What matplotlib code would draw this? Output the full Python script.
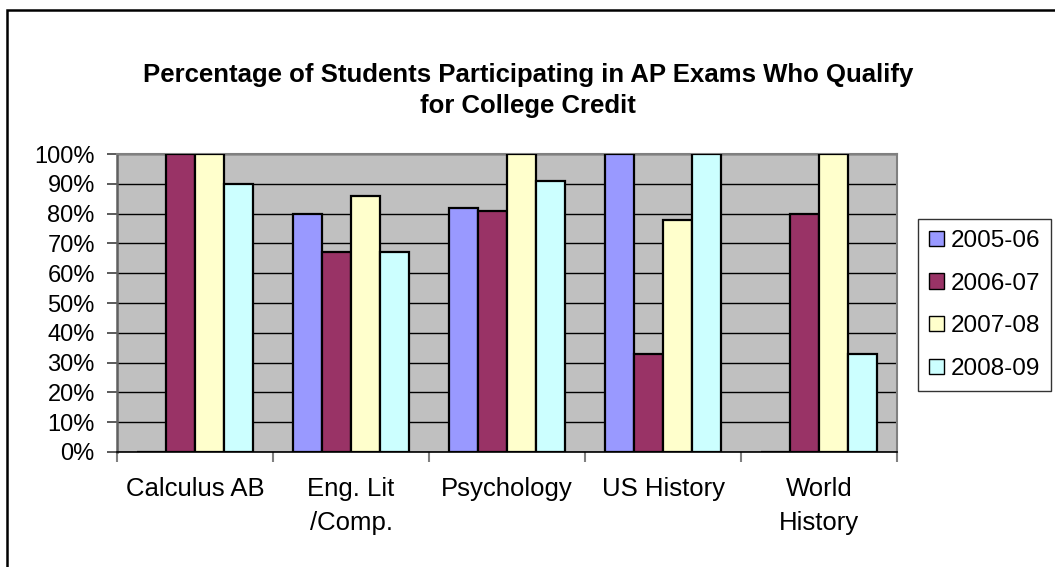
import matplotlib
matplotlib.use("Agg")
import matplotlib.pyplot as plt
import numpy as np
from matplotlib.patches import Rectangle

plt.rcParams['font.family'] = ['Liberation Sans', 'DejaVu Sans']

categories = ["Calculus AB", "Eng. Lit\n/Comp.", "Psychology", "US History", "World\nHistory"]
years = ["2005-06", "2006-07", "2007-08", "2008-09"]
pct_2005 = [0, 80, 82, 100, 0]
pct_2006 = [100, 67, 81, 33, 80]
pct_2007 = [100, 86, 100, 78, 100]
pct_2008 = [90, 67, 91, 100, 33]
series = [pct_2005, pct_2006, pct_2007, pct_2008]
colors = ["#9999FF", "#993366", "#FFFFCC", "#CCFFFF"]

W, H = 1055, 567
fig = plt.figure(figsize=(W / 100, H / 100), dpi=100)

# outer chart border (only top/left visible in the crop)
fig.patches.append(Rectangle((7 / W, -0.1), 1.2, 1 - 10 / H + 0.1, transform=fig.transFigure,
                             fill=False, edgecolor="black", linewidth=1.8))

ax = fig.add_axes([117 / W, (H - 452) / H, 780 / W, 298 / H])
ax.set_facecolor("#C0C0C0")

x = np.arange(len(categories))
bw = 0.186
for i, (vals, c, lab) in enumerate(zip(series, colors, years)):
    ax.bar(x + (i - 1.5) * bw, vals, width=bw, color=c, edgecolor="black",
           linewidth=1.6, label=lab, zorder=3)

ax.set_xlim(-0.5, len(categories) - 0.5)
ax.set_ylim(0, 100)
ax.set_yticks(np.arange(0, 101, 10))
ax.set_yticklabels([f"{v}%" for v in range(0, 101, 10)], fontsize=17)
ax.yaxis.grid(True, color="black", linewidth=1.0, zorder=0)
ax.set_axisbelow(True)

ax.set_xticks(np.arange(-0.5, len(categories), 1.0))
ax.set_xticklabels([])
ax.set_xticks(x, minor=True)
ax.set_xticklabels(categories, minor=True, fontsize=18.5, linespacing=1.55)
ax.tick_params(axis="x", which="minor", length=0, pad=18)
ax.tick_params(axis="x", which="major", length=7, width=1.5, color="#808080", direction="out")
ax.tick_params(axis="y", length=7, width=1.2, color="#404040", direction="out", pad=9)

for s in ["top", "right"]:
    ax.spines[s].set_color("#808080")
    ax.spines[s].set_linewidth(1.5)
ax.spines["left"].set_color("#606060")
ax.spines["left"].set_linewidth(1.8)
ax.spines["bottom"].set_color("black")
ax.spines["bottom"].set_linewidth(1.2)

fig.text(528 / W, 1 - 75 / H, "Percentage of Students Participating in AP Exams Who Qualify",
         ha="center", va="center", fontsize=18.5, fontweight="bold")
fig.text(528 / W, 1 - 106 / H, "for College Credit",
         ha="center", va="center", fontsize=18.5, fontweight="bold")

leg = fig.legend(loc="upper left", bbox_to_anchor=(918 / W, 1 - 219 / H), fontsize=17.5,
                 frameon=True, fancybox=False, edgecolor="black", handlelength=0.6,
                 handleheight=0.6, handletextpad=0.3, labelspacing=0.85, borderpad=0.45,
                 borderaxespad=0)
leg.get_frame().set_linewidth(1.0)
for h in leg.legend_handles:
    h.set_linewidth(1.0)

fig.savefig("out.png", dpi=100)
